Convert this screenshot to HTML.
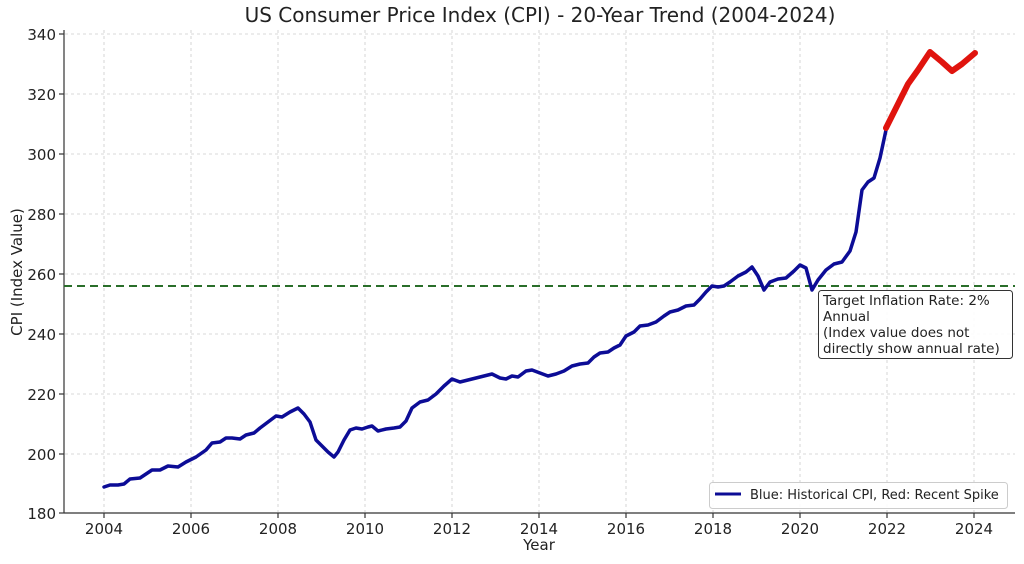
<!DOCTYPE html>
<html><head><meta charset="utf-8"><style>
body{margin:0;background:#fff;}
svg text{font-family:"DejaVu Sans","Liberation Sans",sans-serif;fill:#222;}
</style></head><body>
<svg width="1024" height="559" viewBox="0 0 1024 559" xmlns="http://www.w3.org/2000/svg">
<rect width="1024" height="559" fill="#fff"/>
<g stroke="#ccc" stroke-width="0.8" stroke-dasharray="3,3">
<line x1="65" x2="1015" y1="34" y2="34"/><line x1="65" x2="1015" y1="94" y2="94"/><line x1="65" x2="1015" y1="154" y2="154"/><line x1="65" x2="1015" y1="214" y2="214"/><line x1="65" x2="1015" y1="274" y2="274"/><line x1="65" x2="1015" y1="334" y2="334"/><line x1="65" x2="1015" y1="394" y2="394"/><line x1="65" x2="1015" y1="454" y2="454"/>
<line y1="30" y2="512" x1="104" x2="104"/><line y1="30" y2="512" x1="191" x2="191"/><line y1="30" y2="512" x1="278" x2="278"/><line y1="30" y2="512" x1="365" x2="365"/><line y1="30" y2="512" x1="452" x2="452"/><line y1="30" y2="512" x1="539" x2="539"/><line y1="30" y2="512" x1="626" x2="626"/><line y1="30" y2="512" x1="713" x2="713"/><line y1="30" y2="512" x1="800" x2="800"/><line y1="30" y2="512" x1="887" x2="887"/><line y1="30" y2="512" x1="974" x2="974"/>
</g>
<g stroke="#333" stroke-width="1.2">
<line x1="64" y1="30" x2="64" y2="513"/><line x1="64" y1="513" x2="1015" y2="513"/>
<line x1="59" x2="64" y1="34" y2="34"/><line x1="59" x2="64" y1="94" y2="94"/><line x1="59" x2="64" y1="154" y2="154"/><line x1="59" x2="64" y1="214" y2="214"/><line x1="59" x2="64" y1="274" y2="274"/><line x1="59" x2="64" y1="334" y2="334"/><line x1="59" x2="64" y1="394" y2="394"/><line x1="59" x2="64" y1="454" y2="454"/><line x1="59" x2="64" y1="513" y2="513"/>
<line y1="513" y2="518" x1="104" x2="104"/><line y1="513" y2="518" x1="191" x2="191"/><line y1="513" y2="518" x1="278" x2="278"/><line y1="513" y2="518" x1="365" x2="365"/><line y1="513" y2="518" x1="452" x2="452"/><line y1="513" y2="518" x1="539" x2="539"/><line y1="513" y2="518" x1="626" x2="626"/><line y1="513" y2="518" x1="713" x2="713"/><line y1="513" y2="518" x1="800" x2="800"/><line y1="513" y2="518" x1="887" x2="887"/><line y1="513" y2="518" x1="974" x2="974"/>
</g>
<g font-size="15" text-anchor="end">
<text x="56" y="40">340</text><text x="56" y="100">320</text><text x="56" y="160">300</text><text x="56" y="220">280</text><text x="56" y="280">260</text><text x="56" y="340">240</text><text x="56" y="400">220</text><text x="56" y="460">200</text><text x="56" y="519">180</text>
</g>
<g font-size="15" text-anchor="middle">
<text x="104" y="534">2004</text><text x="191" y="534">2006</text><text x="278" y="534">2008</text><text x="365" y="534">2010</text><text x="452" y="534">2012</text><text x="539" y="534">2014</text><text x="626" y="534">2016</text><text x="713" y="534">2018</text><text x="800" y="534">2020</text><text x="887" y="534">2022</text><text x="974" y="534">2024</text>
<text x="539" y="550" font-size="15">Year</text>
<text x="540" y="22" font-size="20">US Consumer Price Index (CPI) - 20-Year Trend (2004-2024)</text>
<text transform="translate(22,272) rotate(-90)" font-size="15">CPI (Index Value)</text>
</g>
<line x1="64" x2="1015" y1="286" y2="286" stroke="#2a6e2a" stroke-width="2" stroke-dasharray="8,5"/>
<polyline fill="none" stroke="#0c0c96" stroke-width="3.5" stroke-linejoin="round" stroke-linecap="round" points="104,487 110,485 118,485 124,484 130,479 140,478 146,474 152,470 160,470 168,466 178,467 186,462 196,457 206,450 212,443 220,442 226,438 232,438 240,439 246,435 254,433 260,428 268,422 276,416 282,417 290,412 298,408 304,414 310,422 316,440 322,446 328,452 334,457 338,452 344,440 350,430 356,428 362,429 368,427 372,426 378,431 386,429 394,428 400,427 406,421 412,408 420,402 428,400 436,394 444,386 452,379 460,382 468,380 476,378 484,376 492,374 500,378 506,379 512,376 518,377 526,371 532,370 540,373 548,376 556,374 564,371 572,366 580,364 588,363 594,357 600,353 608,352 614,348 620,345 626,336 634,332 640,326 648,325 656,322 664,316 670,312 678,310 686,306 694,305 700,299 706,292 712,286 718,287 724,286 730,282 738,276 746,272 752,267 758,276 764,290 770,282 778,279 786,278 794,271 800,265 806,268 812,290 818,280 826,270 834,264 842,262 850,251 856,232 862,190 868,182 874,178 880,158 886,130"/>
<polyline fill="none" stroke="#e0140e" stroke-width="6" stroke-linejoin="round" stroke-linecap="round" points="886,128 897,106 908,84 918,70 930,52 942,62 952,71 962,64 975,53"/>
<rect x="818.5" y="290.5" width="194" height="68" rx="3" fill="#fff" fill-opacity="0.9" stroke="#333"/>
<g font-size="13.5"><text x="823" y="305">Target Inflation Rate: 2%</text><text x="823" y="321">Annual</text><text x="823" y="337">(Index value does not</text><text x="823" y="353">directly show annual rate)</text></g>
<rect x="709.5" y="482.5" width="298" height="26" rx="3" fill="#fff" fill-opacity="0.9" stroke="#ccc"/>
<line x1="715" x2="741" y1="494" y2="494" stroke="#0c0c96" stroke-width="3"/>
<text x="750" y="499" font-size="13">Blue: Historical CPI, Red: Recent Spike</text>
</svg>
</body></html>
